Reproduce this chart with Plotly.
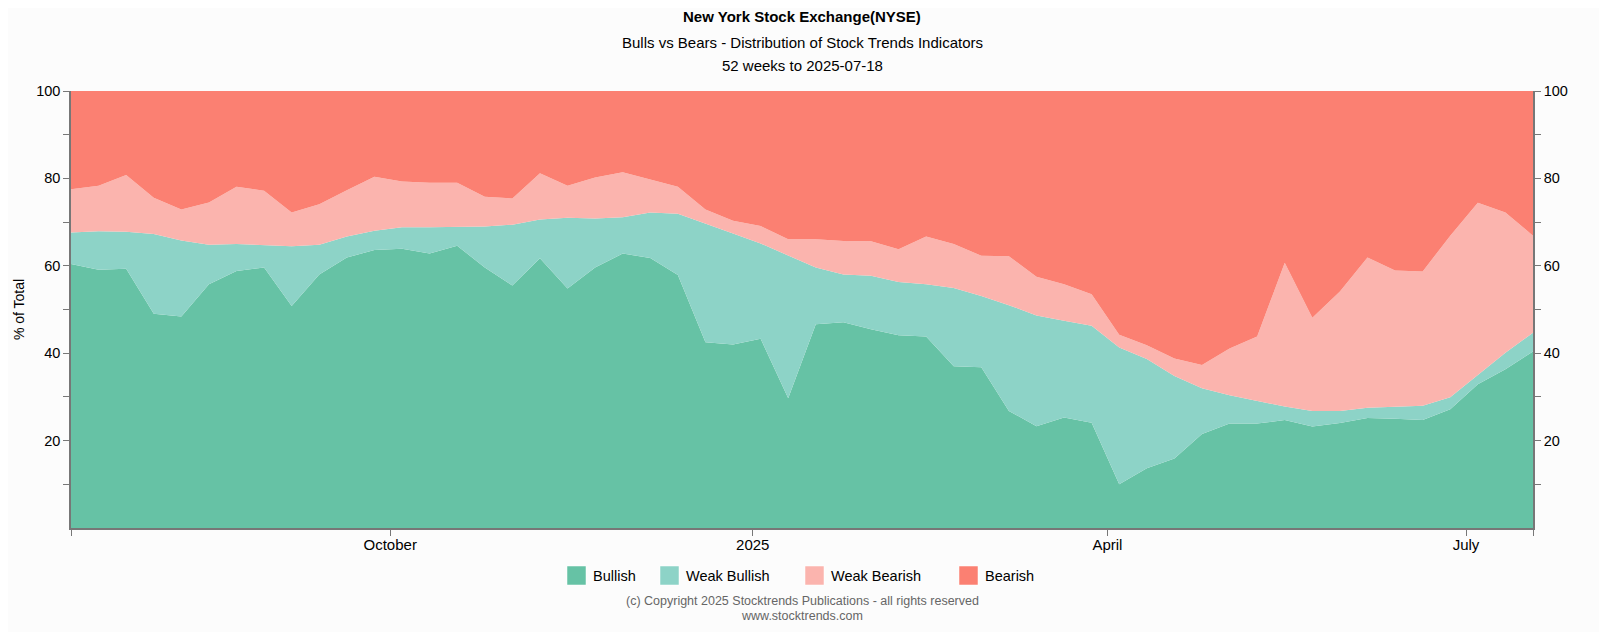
import pandas as pd
import plotly.graph_objects as go

# weekly readings, Fridays 2024-07-12 .. 2025-07-18
weeks = pd.date_range("2024-07-12", "2025-07-18", freq="7D")

bullish = [60.4, 59.1, 59.3, 49.0, 48.4, 55.8, 58.8, 59.6, 50.8, 58.0, 61.9, 63.6, 63.9,
           62.8, 64.6, 59.6, 55.5, 61.7, 54.8, 59.6, 62.8, 61.8, 57.9, 42.5, 42.0, 43.3, 29.7,
           46.6, 47.1, 45.5, 44.1, 43.8, 37.0, 36.8, 26.8, 23.3, 25.3, 24.1, 10.0, 13.7,
           15.9, 21.5, 23.9, 23.9, 24.7, 23.2, 24.0, 25.2, 25.0, 24.7, 27.2, 32.9, 36.3, 40.4]
weak_bullish = [7.2, 8.8, 8.5, 18.3, 17.4, 9.0, 6.2, 5.2, 13.7, 6.8, 4.8, 4.4, 4.9,
                6.0, 4.3, 9.4, 13.9, 8.9, 16.2, 11.2, 8.3, 10.4, 14.0, 27.2, 25.4, 21.8, 32.6,
                13.0, 10.9, 12.2, 12.2, 12.0, 17.9, 16.3, 24.2, 25.3, 22.1, 22.2, 31.3, 25.0,
                18.9, 10.5, 6.5, 5.2, 3.1, 3.6, 2.8, 2.3, 2.8, 3.3, 2.7, 2.0, 3.8, 4.3]
weak_bearish = [9.9, 10.4, 13.0, 8.3, 7.1, 9.7, 13.1, 12.4, 7.7, 9.3, 10.6, 12.4, 10.5,
                10.2, 10.1, 6.8, 6.0, 10.6, 7.3, 9.4, 10.3, 7.6, 6.2, 3.2, 2.9, 4.0, 3.8,
                6.5, 7.7, 7.9, 7.5, 10.9, 10.1, 9.2, 11.2, 8.9, 8.4, 7.2, 2.9, 3.1,
                4.0, 5.3, 10.7, 14.7, 32.9, 21.3, 27.3, 34.4, 31.1, 30.7, 37.0, 39.5, 32.1, 22.2]
bearish = [22.5, 21.7, 19.2, 24.4, 27.1, 25.5, 21.9, 22.8, 27.8, 25.9, 22.7, 19.6, 20.7,
           21.0, 21.0, 24.2, 24.6, 18.8, 21.7, 19.8, 18.6, 20.2, 21.9, 27.1, 29.7, 30.9, 33.9,
           33.9, 34.3, 34.4, 36.2, 33.3, 35.0, 37.7, 37.8, 42.5, 44.2, 46.5, 55.8, 58.2,
           61.2, 62.7, 58.9, 56.2, 39.3, 51.9, 45.9, 38.1, 41.1, 41.3, 33.1, 25.6, 27.8, 33.1]

series_names = ["Bullish", "Weak Bullish", "Weak Bearish", "Bearish"]
colors = ["#66c2a5", "#8dd3c7", "#fbb4ae", "#fb8072"]

x_tickvals = ["2024-07-12", "2024-10-01", "2025-01-01", "2025-04-01", "2025-07-01", "2025-07-18"]
x_ticktext = ["", "October", "2025", "April", "July", ""]
y_tickvals = list(range(10, 101, 10))
y_ticktext = ["" if v % 20 else str(v) for v in y_tickvals]

bg = "#fcfcfc"
axis_col = "#777"

# page body has an 8px margin, so the figure is laid out 8px up/left of screen position
W, H = 1607, 632
L, T, PW, PH = 63, 83, 1462, 437

fig = go.Figure()
for name, vals, col in zip(series_names, [bullish, weak_bullish, weak_bearish, bearish], colors):
    fig.add_trace(go.Scatter(
        x=weeks, y=vals, name=name, mode="lines",
        stackgroup="one", line=dict(width=0, color=col),
        fillcolor=col, showlegend=False,
    ))

# invisible trace so the right-hand axis gets drawn
fig.add_trace(go.Scatter(x=[weeks[0]], y=[0], yaxis="y2", mode="markers",
                         marker=dict(opacity=0), showlegend=False, hoverinfo="skip"))

yaxis_common = dict(
    range=[0, 100], tickvals=y_tickvals, ticktext=y_ticktext,
    ticks="outside", ticklen=6, tickcolor=axis_col,
    showline=True, linecolor=axis_col, linewidth=1.5,
    showgrid=False, zeroline=False,
    tickfont=dict(size=14.5, color="#000"),
)


def px_x(p):
    return (p - L) / PW


def px_y(p):
    return (T + PH - p) / PH


annotations = [
    dict(text="<b>New York Stock Exchange(NYSE)</b>", y=8.5, size=15),
    dict(text="Bulls vs Bears - Distribution of Stock Trends Indicators", y=34, size=15),
    dict(text="52 weeks to 2025-07-18", y=57.5, size=15),
    dict(text="(c) Copyright 2025 Stocktrends Publications - all rights reserved", y=592.5, size=12.5,
         color="#666"),
    dict(text="www.stocktrends.com", y=608, size=12.5, color="#666"),
]
ann_list = [
    dict(text=a["text"], x=0.5, xref="paper", y=px_y(a["y"]), yref="paper", yanchor="middle",
         showarrow=False, font=dict(size=a["size"], color=a.get("color", "#000")))
    for a in annotations
]

# legend drawn by hand: square swatch + label
legend_x = [559, 652, 797, 951]
legend_y = 567.5
shapes = []
for name, col, lx in zip(series_names, colors, legend_x):
    shapes.append(dict(type="rect", xref="paper", yref="paper",
                       x0=px_x(lx), x1=px_x(lx + 19), y0=px_y(legend_y + 9.5), y1=px_y(legend_y - 9.5),
                       fillcolor=col, line=dict(color="rgba(255,255,255,0.5)", width=1)))
    ann_list.append(dict(text=name, x=px_x(lx + 23.5), xref="paper", xanchor="left",
                         y=px_y(legend_y), yref="paper", yanchor="middle", showarrow=False,
                         font=dict(size=14.5, color="#000")))

fig.update_layout(
    width=W, height=H,
    paper_bgcolor=bg, plot_bgcolor=bg,
    font=dict(family="Liberation Sans, Arial, sans-serif", color="#000"),
    margin=dict(l=L, r=W - L - PW, t=T, b=H - T - PH, autoexpand=False),
    showlegend=False,
    xaxis=dict(
        type="date", range=["2024-07-12", "2025-07-18"],
        tickvals=x_tickvals, ticktext=x_ticktext,
        ticks="outside", ticklen=6, tickcolor=axis_col,
        showline=True, linecolor=axis_col, linewidth=1.5,
        showgrid=False, zeroline=False,
        tickfont=dict(size=15, color="#000"),
        ticklabelstandoff=-4,
    ),
    yaxis=dict(title=dict(text="% of Total", font=dict(size=14), standoff=8), **yaxis_common),
    yaxis2=dict(overlaying="y", side="right", **yaxis_common),
    annotations=ann_list,
    shapes=shapes,
)

fig.write_html("out.html")
